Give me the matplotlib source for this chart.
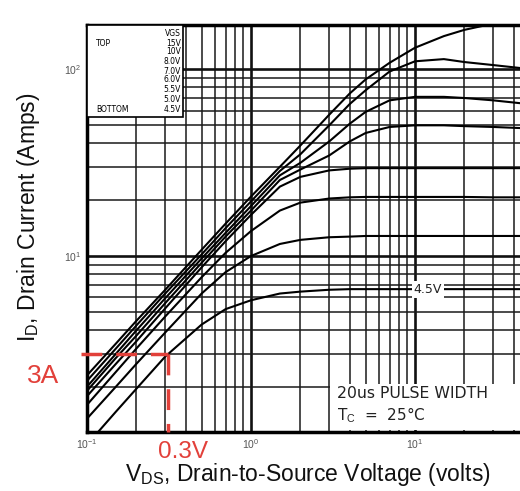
import numpy as np
import matplotlib.pyplot as plt
from matplotlib.patches import Rectangle
from matplotlib.ticker import LogLocator, NullFormatter

plt.rcParams['font.family'] = ['Liberation Sans', 'DejaVu Sans']
plt.rcParams['mathtext.fontset'] = 'custom'
plt.rcParams['mathtext.rm'] = 'Liberation Sans'

# V_DS sample points (volts) and drain current (A) per gate voltage
vds = [0.1, 0.15, 0.2, 0.3, 0.5, 0.7, 1, 1.5, 2, 3, 4, 5, 7, 10, 15, 20, 30, 45]
id_15v = [2.3, 3.4, 4.5, 6.6, 10.8, 14.9, 20.8, 30, 39, 57, 74, 88, 108, 130, 150, 162, 175, 185]
id_10v = [2.15, 3.2, 4.25, 6.3, 10.2, 14.1, 19.6, 28.5, 35, 50, 65, 77, 97, 110, 113, 109, 105, 101]
id_8v = [2.0, 3.0, 4.0, 5.95, 9.7, 13.3, 18.5, 27, 31.5, 41, 51, 59, 68, 71, 71, 70, 68, 65.5]
id_7v = [1.9, 2.85, 3.75, 5.6, 9.2, 12.7, 17.5, 25.5, 29, 34.5, 41, 45.5, 49, 50, 50, 49.5, 49, 48.3]
id_6v = [1.78, 2.65, 3.5, 5.25, 8.7, 12.0, 16.6, 23.5, 26.5, 28.7, 29.3, 29.5, 29.5, 29.5, 29.5, 29.5, 29.5, 29.5]
id_5v5 = [1.6, 2.4, 3.2, 4.75, 7.7, 10.4, 13.6, 17.5, 19.3, 20.3, 20.6, 20.7, 20.7, 20.7, 20.7, 20.7, 20.6, 20.6]
id_5v = [1.35, 2.0, 2.65, 3.9, 6.3, 8.2, 10.0, 11.6, 12.2, 12.6, 12.7, 12.8, 12.8, 12.8, 12.8, 12.8, 12.8, 12.8]
id_4v5 = [0.98, 1.47, 1.95, 2.9, 4.3, 5.2, 5.8, 6.3, 6.45, 6.6, 6.65, 6.65, 6.65, 6.65, 6.65, 6.65, 6.65, 6.65]
curves = [id_15v, id_10v, id_8v, id_7v, id_6v, id_5v5, id_5v, id_4v5]

legend_rows = ['VGS', '15V', '10V', '8.0V', '7.0V', '6.0V', '5.5V', '5.0V', '4.5V']
x_ticks = [0.1, 1, 10]
y_ticks = [10, 100]

# operating point marked in red
mark_v = 0.31
mark_i = 3

W, H = 520, 491
def px(x, y):
    return x / W, 1 - y / H

fig = plt.figure(figsize=(W / 100, H / 100), dpi=100)
ax = fig.add_axes([87 / W, (H - 432) / H, 492 / W, 407 / H])
ax.set_xscale('log')
ax.set_yscale('log')
ax.set_xlim(0.1, 100)
ax.set_ylim(1.145, 172)
ax.set_xticks(x_ticks)
ax.set_yticks(y_ticks)

for axis in (ax.xaxis, ax.yaxis):
    axis.set_minor_locator(LogLocator(base=10, subs=np.arange(2, 10), numticks=20))
    axis.set_minor_formatter(NullFormatter())
ax.grid(which='major', color='#111111', lw=1.9)
ax.grid(which='minor', color='#1a1a1a', lw=1.1)
ax.tick_params(which='both', length=0, labelsize=7.5, labelcolor='#555555', pad=4)
for s in ax.spines.values():
    s.set_linewidth(2.5)
    s.set_color('black')

for ids in curves:
    ax.plot(vds, ids, color='black', lw=1.5, zorder=3)

# legend box (white, covers the grid)
ax.add_patch(Rectangle((0, 0.774), 0.195, 0.226, transform=ax.transAxes,
                       facecolor='white', edgecolor='black', lw=1.2, zorder=4))
row_y = [33, 43, 52, 62, 71, 80, 89, 99, 109]
for y, t in zip(row_y, legend_rows):
    fig.text(*px(181, y), t, ha='right', va='center', fontsize=5.5,
             family='DejaVu Sans', zorder=5)
fig.text(*px(96, 43), 'TOP', ha='left', va='center', fontsize=5.5, family='DejaVu Sans', zorder=5)
fig.text(*px(96, 109), 'BOTTOM', ha='left', va='center', fontsize=5.5, family='DejaVu Sans', zorder=5)

# white area behind the pulse note
ax.add_patch(Rectangle((0.494, 0.006), 0.6, 0.112, transform=ax.transAxes,
                       facecolor='white', edgecolor='none', zorder=2.5))
fig.text(*px(337, 393), '20us PULSE WIDTH', ha='left', va='center', fontsize=11.3,
         family='DejaVu Sans', color='#222222')
fig.text(*px(337, 415), r'T$_{\mathrm{C}}$  =  25°C', ha='left', va='center', fontsize=11,
         family='DejaVu Sans', color='#222222')

ax.text(12.0, id_4v5[-1], '4.5V', ha='center', va='center', fontsize=9,
        family='DejaVu Sans', color='#222222', zorder=5,
        bbox=dict(facecolor='white', edgecolor='none', pad=1.5))

# red marker lines
red = '#e2403a'
ax.plot([0.092, mark_v], [mark_i, mark_i], color=red, lw=2.5, ls=(0, (6, 4)),
        clip_on=False, zorder=6)
ax.plot([mark_v, mark_v], [mark_i, 1.145], color=red, lw=2.5, ls=(0, (6, 4)),
        clip_on=False, zorder=6)
fig.text(*px(43, 376), '3A', ha='center', va='center', fontsize=19, color=red)
fig.text(*px(183, 452), '0.3V', ha='center', va='center', fontsize=17.5, color=red)

fig.text(*px(308, 475), r'V$_{\mathrm{DS}}$, Drain-to-Source Voltage (volts)',
         ha='center', va='center', fontsize=16.5, color='#111111')
fig.text(*px(29, 217), r'I$_{\mathrm{D}}$, Drain Current (Amps)', rotation=90,
         ha='center', va='center', fontsize=16.5, color='#111111')

fig.savefig('out.png', dpi=100)
